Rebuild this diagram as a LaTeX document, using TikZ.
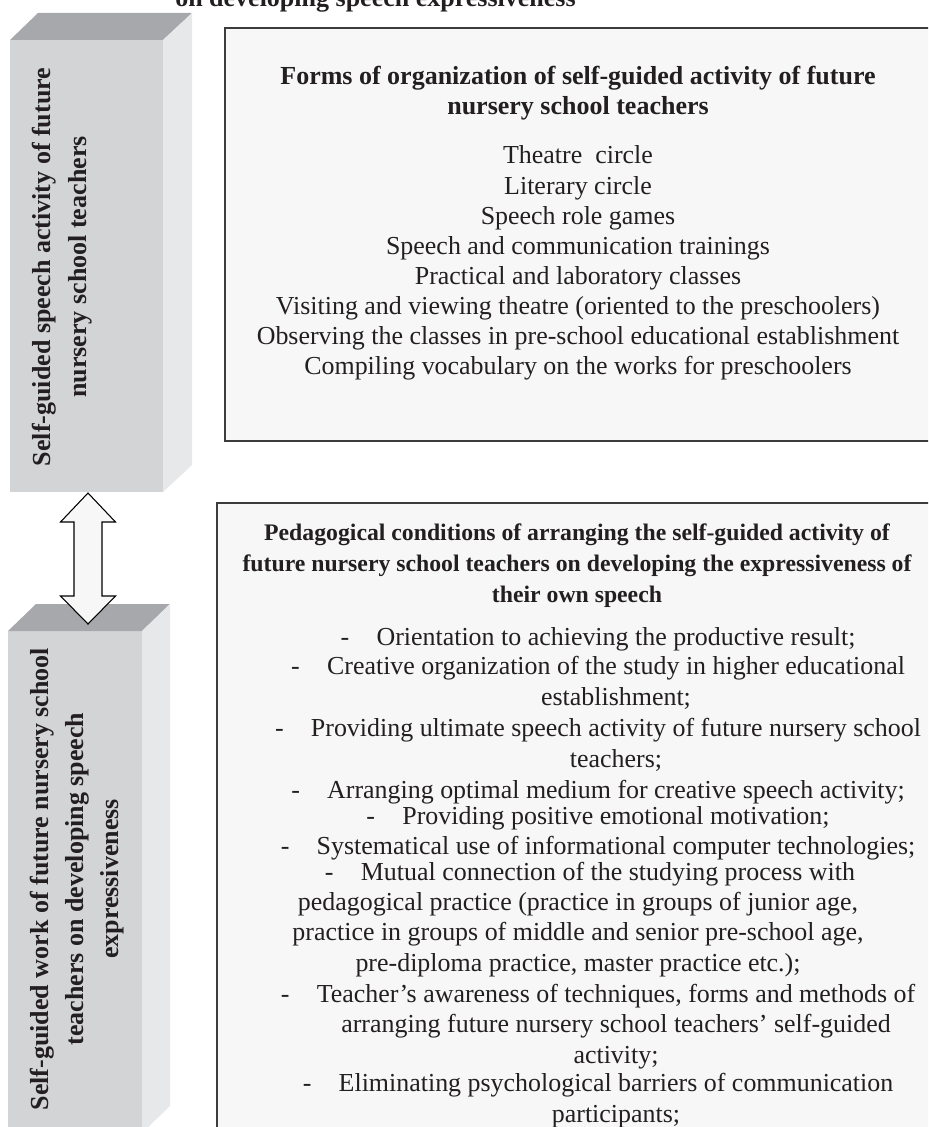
\documentclass[tikz,border=0pt]{standalone}
\usepackage{fontspec}
\setmainfont{Liberation Serif}
\usetikzlibrary{positioning}

\definecolor{cubefront}{HTML}{D3D4D6}
\definecolor{cubetop}{HTML}{A7A8AB}
\definecolor{cubeside}{HTML}{E7E8EA}
\definecolor{panelfill}{HTML}{F7F7F7}
\definecolor{panelline}{HTML}{3C3C3C}
\definecolor{ink}{HTML}{231F20}

% dash hanging in front of a condition
\newcommand{\cond}[1]{\llap{-\hspace{20.5pt}}#1}

\tikzset{
  front/.style={fill=cubefront, inner sep=0pt, outer sep=0pt},
  topface/.style={fill=cubetop},
  sideface/.style={fill=cubeside},
  panel/.style={draw=panelline, line width=1.2pt, fill=panelfill, inner sep=0pt, outer sep=0pt},
  body/.style={text=ink, inner sep=0pt, align=center, font=\fontsize{19.45}{22.6}\selectfont},
  head/.style={body, font=\bfseries\fontsize{19.5}{23.2}\selectfont},
  subhead/.style={body, font=\bfseries\fontsize{17.8}{23.2}\selectfont},
  vlabel/.style={body, rotate=90, font=\bfseries\fontsize{19.5}{26.5}\selectfont},
  dblarrow/.style={draw=black, fill=panelfill, line width=0.8pt, line join=miter}
}

\begin{document}
\begin{tikzpicture}[x=0.75pt, y=-0.75pt]
\useasboundingbox (0,0) rectangle (928,1127);
\clip (0,0) rectangle (928,1127);

% panels
\node[panel, minimum width=529.5pt, minimum height=309.75pt] (forms) at (578,234.5) {};
\node[panel, minimum width=540pt, minimum height=477.75pt] (conds) at (577,821.5) {};

% title, cut at the top edge
\node[head, anchor=base west] (title) at (175,7) {on developing speech expressiveness};

% upper block
\node[front, minimum width=114.75pt, minimum height=339pt] (upcube) at (86.5,266) {};
\fill[topface] (upcube.north west) -- ++(28,-27) -- ++(154,0) -- (upcube.north east) -- cycle;
\fill[sideface] (upcube.north east) -- ++(29,-27) -- ++(0,452) -- (upcube.south east) -- cycle;
\node[vlabel] (uplabel) at (62,267) {Self-guided speech activity of future\\nursery school teachers};

% lower block
\node[front, minimum width=100.5pt, minimum height=376.5pt] (lowcube) at (75,882) {};
\fill[topface] (lowcube.north west) -- ++(28,-27) -- ++(134,0) -- (lowcube.north east) -- cycle;
\fill[sideface] (lowcube.north east) -- ++(28,-27) -- ++(0,502) -- (lowcube.south east) -- cycle;
\node[vlabel] (lowlabel) at (77,879) {Self-guided work of future nursery school\\teachers on developing speech\\expressiveness};

% two-way arrow between the blocks
\coordinate (arrtop) at (88,493);
\coordinate (arrbot) at (88,624);
\draw[dblarrow] (arrtop) -- ++(27.5,29) -- ++(-13.5,0) -- ++(0,74) -- ++(13.5,0) -- (arrbot)
  -- ++(-27.5,-28) -- ++(13.5,0) -- ++(0,-74) -- ++(-13.5,0) -- cycle;

% forms of organization (base = last line)
\node[head, anchor=base] (formshead) at (578,115) {Forms of organization of self-guided activity of future\\nursery school teachers};
\foreach \form [count=\i from 0] in {Theatre\ \ circle, Literary circle, Speech role games,
  Speech and communication trainings, Practical and laboratory classes,
  Visiting and viewing theatre (oriented to the preschoolers),
  Observing the classes in pre-school educational establishment,
  Compiling vocabulary on the works for preschoolers}
  \node[body, anchor=base] (form\i) at (578,164+\i*30.14) {\form};

% pedagogical conditions (base = last line)
\node[subhead, anchor=base] (condhead) at (577,602) {Pedagogical conditions of arranging the self-guided activity of\\future nursery school teachers on developing the expressiveness of\\their own speech};
\node[body, anchor=base] (c1) at (616,645) {\cond{Orientation to achieving the productive result;}};
\node[body, anchor=base] (c2) at (616,705) {\cond{Creative organization of the study in higher educational}\\establishment;};
\node[body, anchor=base] (c3) at (616,767) {\cond{Providing ultimate speech activity of future nursery school}\\teachers;};
\node[body, anchor=base] (c4) at (616,798) {\cond{Arranging optimal medium for creative speech activity;}};
\node[body, anchor=base] (c5) at (616,824) {\cond{Providing positive emotional motivation;}};
\node[body, anchor=base] (c6) at (616,854) {\cond{Systematical use of informational computer technologies;}};
\node[body, anchor=base] (c7) at (578,971) {\hspace*{45pt}\cond{Mutual connection of the studying process with}\\pedagogical practice (practice in groups of junior age,\\practice in groups of middle and senior pre-school age,\\pre-diploma practice, master practice etc.);};
\node[body, anchor=base] (c8) at (616,1063) {\cond{Teacher's awareness of techniques, forms and methods of}\\arranging future nursery school teachers' self-guided\\activity;};
\node[body, anchor=base] (c9) at (616,1122) {\cond{Eliminating psychological barriers of communication}\\participants;};
\end{tikzpicture}
\end{document}
